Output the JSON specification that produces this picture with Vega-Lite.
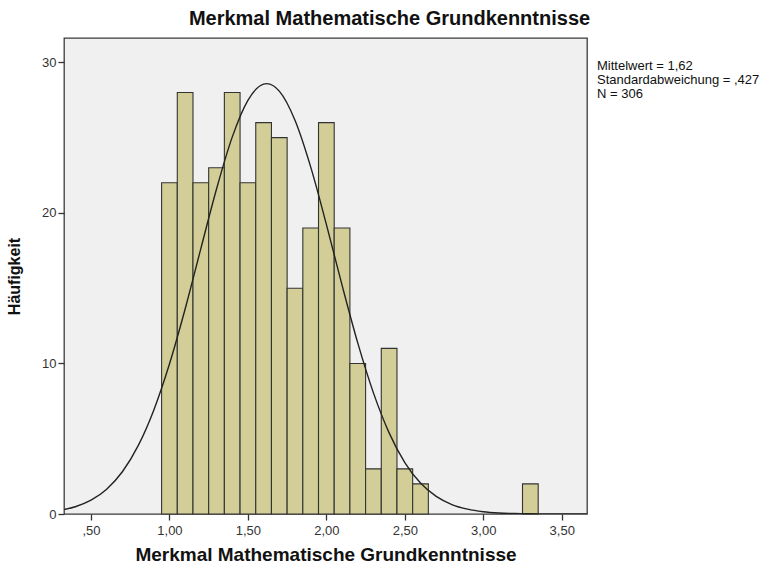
{
  "$schema": "https://vega.github.io/schema/vega-lite/v6.json",
  "autosize": {"type": "none"},
  "width": 523,
  "height": 476,
  "padding": {"left": 64, "top": 38, "right": 186, "bottom": 55},
  "background": "white",
  "config": {
    "font": "Liberation Sans",
    "view": {"fill": "#F0F0F0", "stroke": "#3a3a3a", "strokeWidth": 1.3}
  },
  "title": {
    "text": "Merkmal Mathematische Grundkenntnisse",
    "fontSize": 20,
    "fontWeight": "bold",
    "color": "#111",
    "anchor": "middle",
    "dx": 64,
    "offset": 9
  },
  "datasets": {
    "bars": [
      {"bin_start": 0.95, "bin_end": 1.05, "count": 22},
      {"bin_start": 1.05, "bin_end": 1.15, "count": 28},
      {"bin_start": 1.15, "bin_end": 1.25, "count": 22},
      {"bin_start": 1.25, "bin_end": 1.35, "count": 23},
      {"bin_start": 1.35, "bin_end": 1.45, "count": 28},
      {"bin_start": 1.45, "bin_end": 1.55, "count": 22},
      {"bin_start": 1.55, "bin_end": 1.65, "count": 26},
      {"bin_start": 1.65, "bin_end": 1.75, "count": 25},
      {"bin_start": 1.75, "bin_end": 1.85, "count": 15},
      {"bin_start": 1.85, "bin_end": 1.95, "count": 19},
      {"bin_start": 1.95, "bin_end": 2.05, "count": 26},
      {"bin_start": 2.05, "bin_end": 2.15, "count": 19},
      {"bin_start": 2.15, "bin_end": 2.25, "count": 10},
      {"bin_start": 2.25, "bin_end": 2.35, "count": 3},
      {"bin_start": 2.35, "bin_end": 2.45, "count": 11},
      {"bin_start": 2.45, "bin_end": 2.55, "count": 3},
      {"bin_start": 2.55, "bin_end": 2.65, "count": 2},
      {"bin_start": 3.25, "bin_end": 3.35, "count": 2}
    ],
    "curve": [
      {"x": 0.33, "y": 0.298},
      {"x": 0.4, "y": 0.483},
      {"x": 0.5, "y": 0.917},
      {"x": 0.6, "y": 1.649},
      {"x": 0.7, "y": 2.807},
      {"x": 0.8, "y": 4.523},
      {"x": 0.9, "y": 6.899},
      {"x": 1.0, "y": 9.963},
      {"x": 1.1, "y": 13.621},
      {"x": 1.2, "y": 17.625},
      {"x": 1.3, "y": 21.591},
      {"x": 1.4, "y": 25.036},
      {"x": 1.5, "y": 27.483},
      {"x": 1.6, "y": 28.559},
      {"x": 1.62, "y": 28.589},
      {"x": 1.7, "y": 28.093},
      {"x": 1.8, "y": 26.159},
      {"x": 1.9, "y": 23.059},
      {"x": 2.0, "y": 19.241},
      {"x": 2.1, "y": 15.199},
      {"x": 2.2, "y": 11.365},
      {"x": 2.3, "y": 8.045},
      {"x": 2.4, "y": 5.391},
      {"x": 2.5, "y": 3.419},
      {"x": 2.6, "y": 2.053},
      {"x": 2.7, "y": 1.167},
      {"x": 2.8, "y": 0.628},
      {"x": 2.9, "y": 0.32},
      {"x": 3.0, "y": 0.154},
      {"x": 3.1, "y": 0.0704},
      {"x": 3.2, "y": 0.0304},
      {"x": 3.3, "y": 0.012},
      {"x": 3.4, "y": 0.0046},
      {"x": 3.5, "y": 0.0016},
      {"x": 3.6, "y": 0.0005},
      {"x": 3.66, "y": 0.0003}
    ],
    "stats": [
      {"x": 3.725, "y": 29.74, "label": "Mittelwert = 1,62"},
      {"x": 3.725, "y": 28.83, "label": "Standardabweichung = ,427"},
      {"x": 3.725, "y": 27.92, "label": "N = 306"}
    ]
  },
  "layer": [
    {
      "data": {"name": "bars"},
      "mark": {"type": "rect", "fill": "#D3CE97", "stroke": "#333", "strokeWidth": 1.1},
      "encoding": {
        "x": {
          "field": "bin_start",
          "type": "quantitative",
          "scale": {"domain": [0.328, 3.661], "nice": false, "zero": false},
          "axis": {
            "values": [0.5, 1, 1.5, 2, 2.5, 3, 3.5],
            "labelExpr": "datum.value < 1 ? replace(format(datum.value, '.2f'), '0.', ',') : replace(format(datum.value, '.2f'), '.', ',')",
            "title": "Merkmal Mathematische Grundkenntnisse",
            "titleFontSize": 19,
            "titleFontWeight": "bold",
            "titleColor": "#111",
            "titlePadding": 8,
            "labelFontSize": 13,
            "labelColor": "#333",
            "labelPadding": 4,
            "tickSize": 6,
            "tickColor": "#333",
            "tickWidth": 1.3,
            "domain": false,
            "grid": false
          }
        },
        "x2": {"field": "bin_end"},
        "y": {
          "field": "count",
          "type": "quantitative",
          "scale": {"domain": [0, 31.62], "nice": false},
          "axis": {
            "values": [0, 10, 20, 30],
            "title": "Häufigkeit",
            "titleFontSize": 16,
            "titleFontWeight": "bold",
            "titleColor": "#111",
            "titlePadding": 19,
            "labelFontSize": 13,
            "labelColor": "#333",
            "labelPadding": 2,
            "tickSize": 6,
            "tickColor": "#333",
            "tickWidth": 1.3,
            "domain": false,
            "grid": false
          }
        },
        "y2": {"datum": 0}
      }
    },
    {
      "data": {"name": "curve"},
      "mark": {"type": "line", "color": "#222", "strokeWidth": 1.4, "interpolate": "monotone", "clip": true},
      "encoding": {
        "x": {"field": "x", "type": "quantitative"},
        "y": {"field": "y", "type": "quantitative"}
      }
    },
    {
      "data": {"name": "stats"},
      "mark": {"type": "text", "align": "left", "baseline": "middle", "fontSize": 13, "color": "#111", "clip": false},
      "encoding": {
        "x": {"field": "x", "type": "quantitative"},
        "y": {"field": "y", "type": "quantitative"},
        "text": {"field": "label"}
      }
    }
  ]
}
